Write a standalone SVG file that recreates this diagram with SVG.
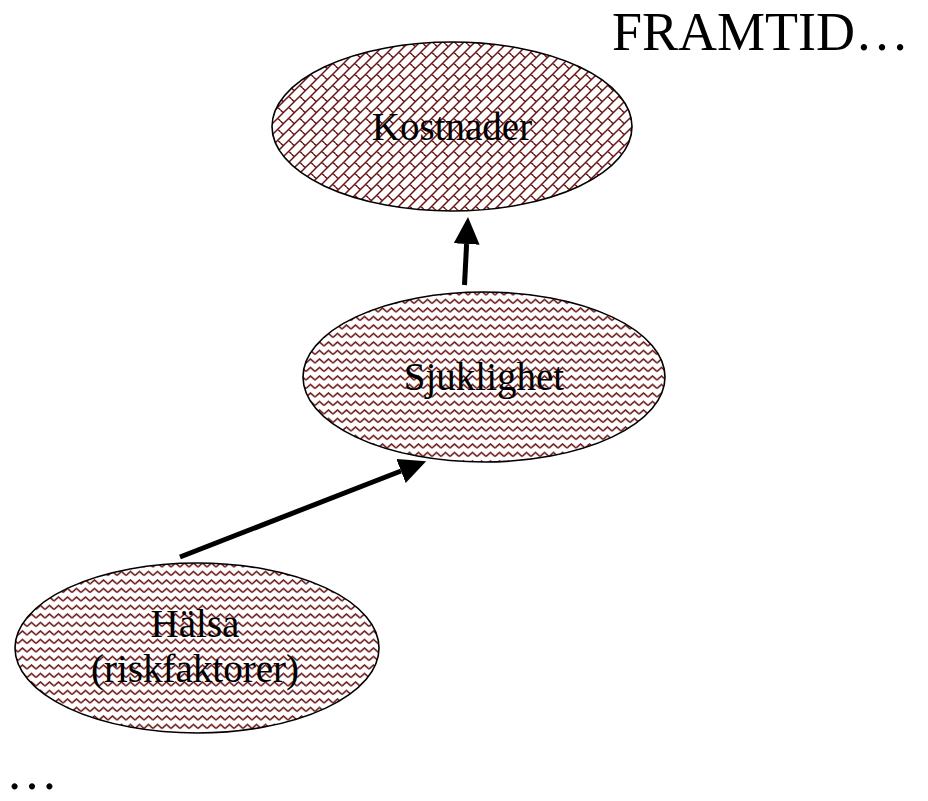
<svg xmlns="http://www.w3.org/2000/svg" width="928" height="801" viewBox="0 0 928 801">
<style>
.node ellipse{stroke:#000;stroke-width:1.6}
.lbl{font-family:"Liberation Serif","Times New Roman",serif;font-size:39px;fill:#000;text-anchor:middle}
.big{font-family:"Liberation Serif","Times New Roman",serif;font-size:54px;fill:#000}
.conn line{stroke:#000;stroke-width:5}
</style>
<defs>
<pattern id="brick" patternUnits="userSpaceOnUse" width="11" height="11">
<rect width="11" height="11" fill="#fff"/>
<path d="M-1,12 L12,-1 M-1,1 L1,-1 M10,12 L12,10 M2.75,8.25 L5.5,11 M5.5,0 L8.25,2.75" stroke="#6a1515" stroke-width="1.5" fill="none"/>
</pattern>
<pattern id="zig" patternUnits="userSpaceOnUse" width="9" height="8.5">
<rect width="9" height="8.5" fill="#fff"/>
<path d="M0,6 L4.5,2 L9,6" stroke="#6a1515" stroke-width="1.5" fill="none"/>
</pattern>
<marker id="ah" markerUnits="userSpaceOnUse" markerWidth="30" markerHeight="28" refX="0" refY="13" orient="auto">
<path d="M0,0 L27,13 L0,26 z" fill="#000"/>
</marker>
</defs>
<text class="big" x="612" y="50">FRAMTID…</text>
<text class="big" x="6" y="789" style="font-size:52px">…</text>
<g id="conn" class="conn">
<line x1="464.5" y1="285" x2="466.6" y2="244" marker-end="url(#ah)"/>
<line x1="180" y1="557" x2="401" y2="471" marker-end="url(#ah)"/>
</g>
<g id="kostnader" class="node">
<ellipse cx="452" cy="126.5" rx="180" ry="84.5" fill="url(#brick)"/>
<text class="lbl" x="452" y="140">Kostnader</text>
</g>
<g id="sjuklighet" class="node">
<ellipse cx="484" cy="377" rx="181" ry="85" fill="url(#zig)"/>
<text class="lbl" x="484" y="390">Sjuklighet</text>
</g>
<g id="halsa" class="node">
<ellipse cx="197" cy="648" rx="182" ry="85" fill="url(#zig)"/>
<text class="lbl" x="195" y="637">Hälsa</text>
<text class="lbl" x="195" y="682">(riskfaktorer)</text>
</g>
</svg>
